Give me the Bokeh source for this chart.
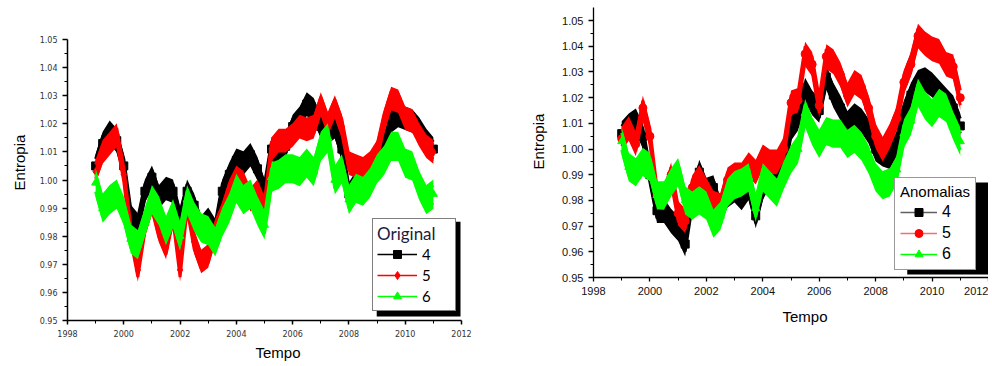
import numpy as np
from bokeh.plotting import figure
from bokeh.layouts import row
from bokeh.models import (Legend, LegendItem, BoxAnnotation, FixedTicker,
                          PrintfTickFormatter, Range1d, Title)
from bokeh.embed import file_html
from bokeh.resources import INLINE

# ---------------- data (quarterly, 1999.0 .. 2011.0) ----------------
years = [1999.0 + 0.25 * i for i in range(49)]

orig_4 = [1.005, 1.013, 1.017, 1.014, 1.005, 0.987, 0.984, 0.996, 1.001, 0.994, 0.997, 0.996,
          0.986, 0.996, 0.991, 0.983, 0.986, 0.982, 0.996, 1.002, 1.007, 1.006, 1.009, 1.004,
          0.996, 1.011, 1.010, 1.012, 1.019, 1.022, 1.027, 1.025, 1.019, 1.017, 1.019, 1.011,
          0.995, 0.999, 1.002, 1.002, 1.006, 1.012, 1.021, 1.023, 1.022, 1.021, 1.018, 1.014, 1.011]
orig_5 = [1.003, 1.010, 1.013, 1.016, 1.002, 0.981, 0.968, 0.984, 0.992, 0.982, 0.976, 0.988,
          0.968, 0.992, 0.978, 0.971, 0.973, 0.982, 0.988, 0.996, 1.001, 0.999, 0.993, 0.996,
          0.990, 1.011, 1.014, 1.014, 1.016, 1.019, 1.018, 1.019, 1.027, 1.020, 1.026, 1.019,
          1.006, 1.005, 1.004, 1.006, 1.010, 1.021, 1.029, 1.028, 1.022, 1.021, 1.016, 1.012, 1.010]
orig_6 = [0.999, 0.990, 0.993, 0.995, 0.989, 0.979, 0.977, 0.985, 0.993, 0.989, 0.982, 0.988,
          0.980, 0.993, 0.987, 0.983, 0.982, 0.978, 0.985, 0.990, 0.997, 0.993, 0.995, 0.989,
          0.984, 1.001, 1.002, 1.004, 1.004, 1.003, 1.006, 1.003, 1.012, 1.015, 1.000, 1.004,
          0.993, 0.997, 0.996, 0.999, 1.004, 1.007, 1.012, 1.012, 1.006, 1.005, 0.998, 0.993, 0.995]

anom_4 = [1.006, 1.009, 1.011, 1.005, 0.990, 0.976, 0.976, 0.972, 0.969, 0.963, 0.981, 0.991,
          0.984, 0.985, 0.976, 0.982, 0.984, 0.981, 0.985, 0.974, 0.985, 0.990, 0.990, 0.993,
          1.008, 1.012, 1.023, 1.018, 1.015, 1.028, 1.021, 1.016, 1.010, 1.013, 1.011, 1.007,
          1.000, 0.998, 0.997, 1.002, 1.014, 1.021, 1.026, 1.027, 1.025, 1.022, 1.019, 1.016, 1.009]
anom_5 = [1.004, 1.008, 1.002, 1.016, 1.005, 0.982, 0.981, 0.990, 0.975, 0.972, 0.985, 0.989,
          0.984, 0.979, 0.978, 0.988, 0.990, 0.990, 0.994, 0.991, 0.997, 0.995, 0.995, 1.000,
          1.018, 1.019, 1.037, 1.033, 1.017, 1.036, 1.034, 1.029, 1.021, 1.026, 1.024, 1.016,
          1.005, 1.000, 1.005, 1.012, 1.026, 1.033, 1.044, 1.041, 1.039, 1.038, 1.033, 1.032, 1.020]
anom_6 = [1.003, 0.993, 0.991, 0.995, 0.993, 0.982, 0.982, 0.987, 0.991, 0.980, 0.978, 0.980,
          0.978, 0.971, 0.974, 0.983, 0.986, 0.987, 0.989, 0.977, 0.989, 0.986, 0.983, 0.990,
          0.996, 1.000, 1.014, 1.007, 1.002, 1.007, 1.006, 1.006, 1.002, 1.004, 1.001, 0.996,
          0.989, 0.986, 0.987, 0.992, 1.006, 1.011, 1.022, 1.017, 1.014, 1.018, 1.016, 1.009, 1.003]

series_names = ["4", "5", "6"]
x_ticks = [1998, 2000, 2002, 2004, 2006, 2008, 2010, 2012]
x_minor = [1999, 2001, 2003, 2005, 2007, 2009, 2011]
y_ticks = [0.95, 0.96, 0.97, 0.98, 0.99, 1.00, 1.01, 1.02, 1.03, 1.04, 1.05]
y_minor = [0.955, 0.965, 0.975, 0.985, 0.995, 1.005, 1.015, 1.025, 1.035, 1.045]

BLACK, RED, GREEN = "#000000", "#ff0000", "#00ff00"


def build(width, height, bl, br, bt, bb, yr_top, data, markers, line_cols, hws,
          tick_font, tick_size, tick_col, lab_font, lab_size,
          ylab_offset, ylab_standoff, xlab_offset, xlab_standoff,
          title, title_font, title_size, title_col, item_font, item_size, leg_cfg,
          axis_w, x_label_standoff):
    p = figure(width=width, height=height, output_backend="svg", toolbar_location=None,
               x_range=Range1d(1998, 2012), y_range=Range1d(0.95, yr_top),
               min_border_left=bl, min_border_right=br, min_border_top=bt,
               min_border_bottom=bb, frame_align=False)
    p.outline_line_color = None
    p.grid.visible = False
    p.background_fill_color = "white"
    p.border_fill_color = "white"

    fw = width - bl - max(br, 11)
    fh = height - bt - bb

    def dx(px):  # pixels from frame left -> data x
        return 1998 + px * 14.0 / fw

    def dy(py):  # pixels above frame bottom -> data y
        return 0.95 + py * (yr_top - 0.95) / fh

    for ax in (p.xaxis[0], p.yaxis[0]):
        ax.axis_line_color = "black"
        ax.axis_line_width = axis_w
        ax.major_tick_line_color = "black"
        ax.minor_tick_line_color = "black"
        ax.major_tick_line_width = axis_w
        ax.major_tick_in = 0
        ax.major_tick_out = 5
        ax.minor_tick_in = 0
        ax.minor_tick_out = 3
        ax.major_label_text_font = tick_font
        ax.major_label_text_font_size = tick_size
        ax.major_label_text_color = tick_col
    p.xaxis.ticker = FixedTicker(ticks=x_ticks, minor_ticks=x_minor)
    p.yaxis.ticker = FixedTicker(ticks=y_ticks, minor_ticks=y_minor)
    p.xaxis.formatter = PrintfTickFormatter(format="%d")
    p.yaxis.formatter = PrintfTickFormatter(format="%.2f")
    p.xaxis.major_tick_out = 4
    p.xaxis.major_label_standoff = x_label_standoff
    p.yaxis.major_label_standoff = 5

    # axis titles, placed like the original (shifted off-centre)
    p.add_layout(Title(text="Tempo", align="left", offset=xlab_offset, standoff=xlab_standoff,
                       text_font=lab_font, text_font_size=lab_size,
                       text_font_style="normal", text_color="black"), "below")
    p.add_layout(Title(text="Entropia", align="left", offset=ylab_offset,
                       standoff=ylab_standoff, text_font=lab_font, text_font_size=lab_size,
                       text_font_style="normal", text_color="black"), "left")

    cols = [BLACK, RED, GREEN]
    items = []
    for vals, col, mk, lc, hw, name in zip(data, cols, markers, line_cols, hws, series_names):
        v = np.array(vals)
        lr = p.line(x=years, y=vals, line_color=lc, line_width=1.5)
        p.varea(x=years, y1=v - hw, y2=v + hw, fill_color=col)
        p.line(x=years, y=list(v + hw * 0.6), line_color=col, line_width=3)
        p.line(x=years, y=list(v - hw * 0.6), line_color=col, line_width=3)
        sr = p.scatter(x=years, y=vals, marker=mk, fill_color=col, line_color=col, size=8)
        items.append(LegendItem(label=name, renderers=[lr, sr]))

    # legend and its shadow
    (lx, ly, lw, lh, pad, gw, gh, sp, tstand, lwid, lstand, bcol, bwid, sh) = leg_cfg
    p.add_layout(BoxAnnotation(left=dx(lx + sh), right=dx(lx + lw + sh),
                               bottom=dy(ly - sh), top=dy(ly + lh - sh),
                               fill_color="black", fill_alpha=1.0, line_color=None,
                               level="annotation"))
    leg = Legend(items=items, location=(lx, ly), title=title,
                 title_text_font=title_font, title_text_font_size=title_size,
                 title_text_color=title_col, title_text_font_style="normal",
                 title_standoff=tstand,
                 label_text_font=item_font, label_text_font_size=item_size,
                 label_text_color="black", label_standoff=lstand, label_width=lwid,
                 glyph_width=gw, glyph_height=gh, spacing=sp, padding=pad, margin=0,
                 border_line_color=bcol, border_line_width=bwid,
                 background_fill_color="white", background_fill_alpha=1.0)
    p.add_layout(leg, "center")
    return p


left = build(484, 362, 66, 23, 39, 41, 1.05,
             [orig_4, orig_5, orig_6], ["square", "diamond", "triangle"],
             [BLACK, RED, GREEN], [0.0042, 0.0042, 0.0052],
             "DejaVu Sans", "8px", "#333333", "Liberation Sans", "15px",
             130, 17, 188, 4,
             "Original", "Lato", "17px", "#1c1c3c", "Lato", "15px",
             (305, 9, 84, 95, 4, 40, 20, 1, 0, 29, 5, "black", 1.5, 5),
             1.5, 5)

right = build(504, 362, 109, 0, 7, 85, 1.0551,
              [anom_4, anom_5, anom_6], ["square", "circle", "triangle"],
              ["#606060", "#f07070", GREEN], [0.0048, 0.0048, 0.0055],
              "Liberation Sans", "11px", "#111111", "Liberation Sans", "15px",
              108, 25, 189, 16,
              "Anomalias", "Liberation Sans", "15px", "black", "Liberation Sans", "16px",
              (301, 7, 80, 92, 5, 37, 20, 1, 2, 20, 5, "#333333", 1.0, 4),
              1.3, 5)

layout = row(left, right)
open("out.html", "w").write(file_html(layout, INLINE))
